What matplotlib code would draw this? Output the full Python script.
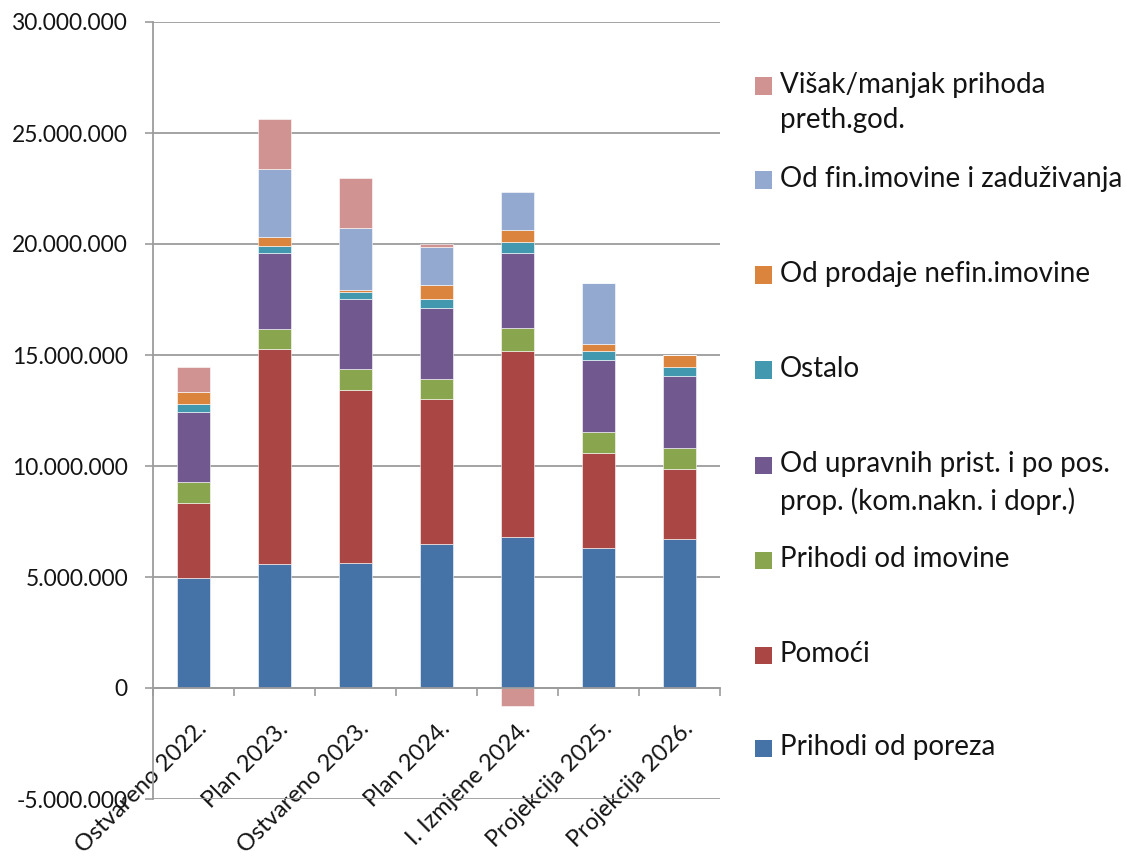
import matplotlib
matplotlib.use("Agg")
import matplotlib.pyplot as plt
from matplotlib.patches import Rectangle
from matplotlib.transforms import ScaledTranslation
import numpy as np

categories = ["Ostvareno 2022.", "Plan 2023.", "Ostvareno 2023.", "Plan 2024.",
              "I. Izmjene 2024.", "Projekcija 2025.", "Projekcija 2026."]

# series (bottom to top of stack)
prihodi_od_poreza = [4970000, 5600000, 5620000, 6490000, 6820000, 6320000, 6730000]
pomoci            = [3360000, 9660000, 7790000, 6510000, 8350000, 4270000, 3130000]
prihodi_od_imovine = [960000, 900000, 960000, 900000, 1060000, 960000, 970000]
od_upravnih       = [3160000, 3430000, 3140000, 3200000, 3360000, 3220000, 3210000]
ostalo            = [330000, 340000, 310000, 410000, 490000, 400000, 410000]
od_prodaje        = [540000, 400000, 110000, 630000, 570000, 330000, 550000]
od_fin_imovine    = [0, 3050000, 2810000, 1710000, 1680000, 2730000, 0]
visak_manjak      = [1130000, 2250000, 2250000, 140000, -810000, 0, 0]

series_names = ["Prihodi od poreza", "Pomoći", "Prihodi od imovine",
                "Od upravnih prist. i po pos.\nprop. (kom.nakn. i dopr.)", "Ostalo",
                "Od prodaje nefin.imovine", "Od fin.imovine i zaduživanja",
                "Višak/manjak prihoda\npreth.god."]
series_values = [prihodi_od_poreza, pomoci, prihodi_od_imovine, od_upravnih, ostalo,
                 od_prodaje, od_fin_imovine, visak_manjak]
colors = ["#4572A7", "#AA4643", "#89A54E", "#71588F", "#4198AF", "#DB843D",
          "#93A9CF", "#D19392"]

y_ticks = [-5000000, 0, 5000000, 10000000, 15000000, 20000000, 25000000, 30000000]

FONT = "Lato"
TXT = "#141414"
GRID = "#9c9c9c"

fig = plt.figure(figsize=(11.27, 8.58), dpi=100)
W, H = 1127, 858
ax = fig.add_axes([153 / W, 1 - 799 / H, (720 - 153) / W, (799 - 22) / H])

x = np.arange(len(categories))
pos_base = np.zeros(len(categories))
neg_base = np.zeros(len(categories))
for vals, col in zip(series_values, colors):
    v = np.array(vals, dtype=float)
    base = np.where(v >= 0, pos_base, neg_base)
    ax.bar(x, v, width=0.4, bottom=base, color=col, edgecolor="#ffffff",
           linewidth=0.4, zorder=3)
    pos_base = pos_base + np.where(v >= 0, v, 0)
    neg_base = neg_base + np.where(v < 0, v, 0)

ax.set_xlim(-0.5, len(categories) - 0.5)
ax.set_ylim(-5000000, 30000000)
ax.set_yticks(y_ticks)
ax.set_yticklabels([f"{t:,}".replace(",", ".") for t in y_ticks],
                   fontfamily=FONT, fontsize=16.4, color=TXT)
ax.yaxis.grid(True, color=GRID, linewidth=1.3, zorder=0)
ax.tick_params(axis="y", direction="out", length=6, width=1.2, color=GRID, pad=12)

for s in ["top", "right"]:
    ax.spines[s].set_visible(False)
ax.spines["left"].set_color(GRID)
ax.spines["left"].set_linewidth(1.3)
ax.spines["bottom"].set_position(("data", 0))
ax.spines["bottom"].set_color(GRID)
ax.spines["bottom"].set_linewidth(1.3)
ax.spines["bottom"].set_zorder(4)

ax.set_xticks(x)
ax.set_xticks(np.arange(-0.5, len(categories), 1.0), minor=True)
ax.tick_params(axis="x", which="major", length=0, pad=27)
ax.tick_params(axis="x", which="minor", length=6, width=1.2, color=GRID, direction="out")
ax.set_xticklabels(categories, rotation=45, ha="right", va="center",
                   rotation_mode="anchor", fontfamily=FONT, fontsize=17, color=TXT)
off = ScaledTranslation(10 / 100, 0, fig.dpi_scale_trans)
for lab in ax.get_xticklabels():
    lab.set_transform(lab.get_transform() + off)

# legend (top entry = last series)
legend_y = [86, 180, 275, 370, 465, 560, 655, 748]
for i, (name, col) in enumerate(zip(series_names[::-1], colors[::-1])):
    yc = legend_y[i]
    fig.patches.append(Rectangle((755 / W, 1 - (yc + 8.5) / H), 17 / W, 17 / H,
                                 transform=fig.transFigure, facecolor=col,
                                 edgecolor="none"))
    fig.text(780 / W, 1 - (yc - 14) / H, name, ha="left", va="top",
             fontfamily=FONT, fontsize=20, color=TXT, linespacing=1.45)

fig.savefig("out.png", dpi=100)
